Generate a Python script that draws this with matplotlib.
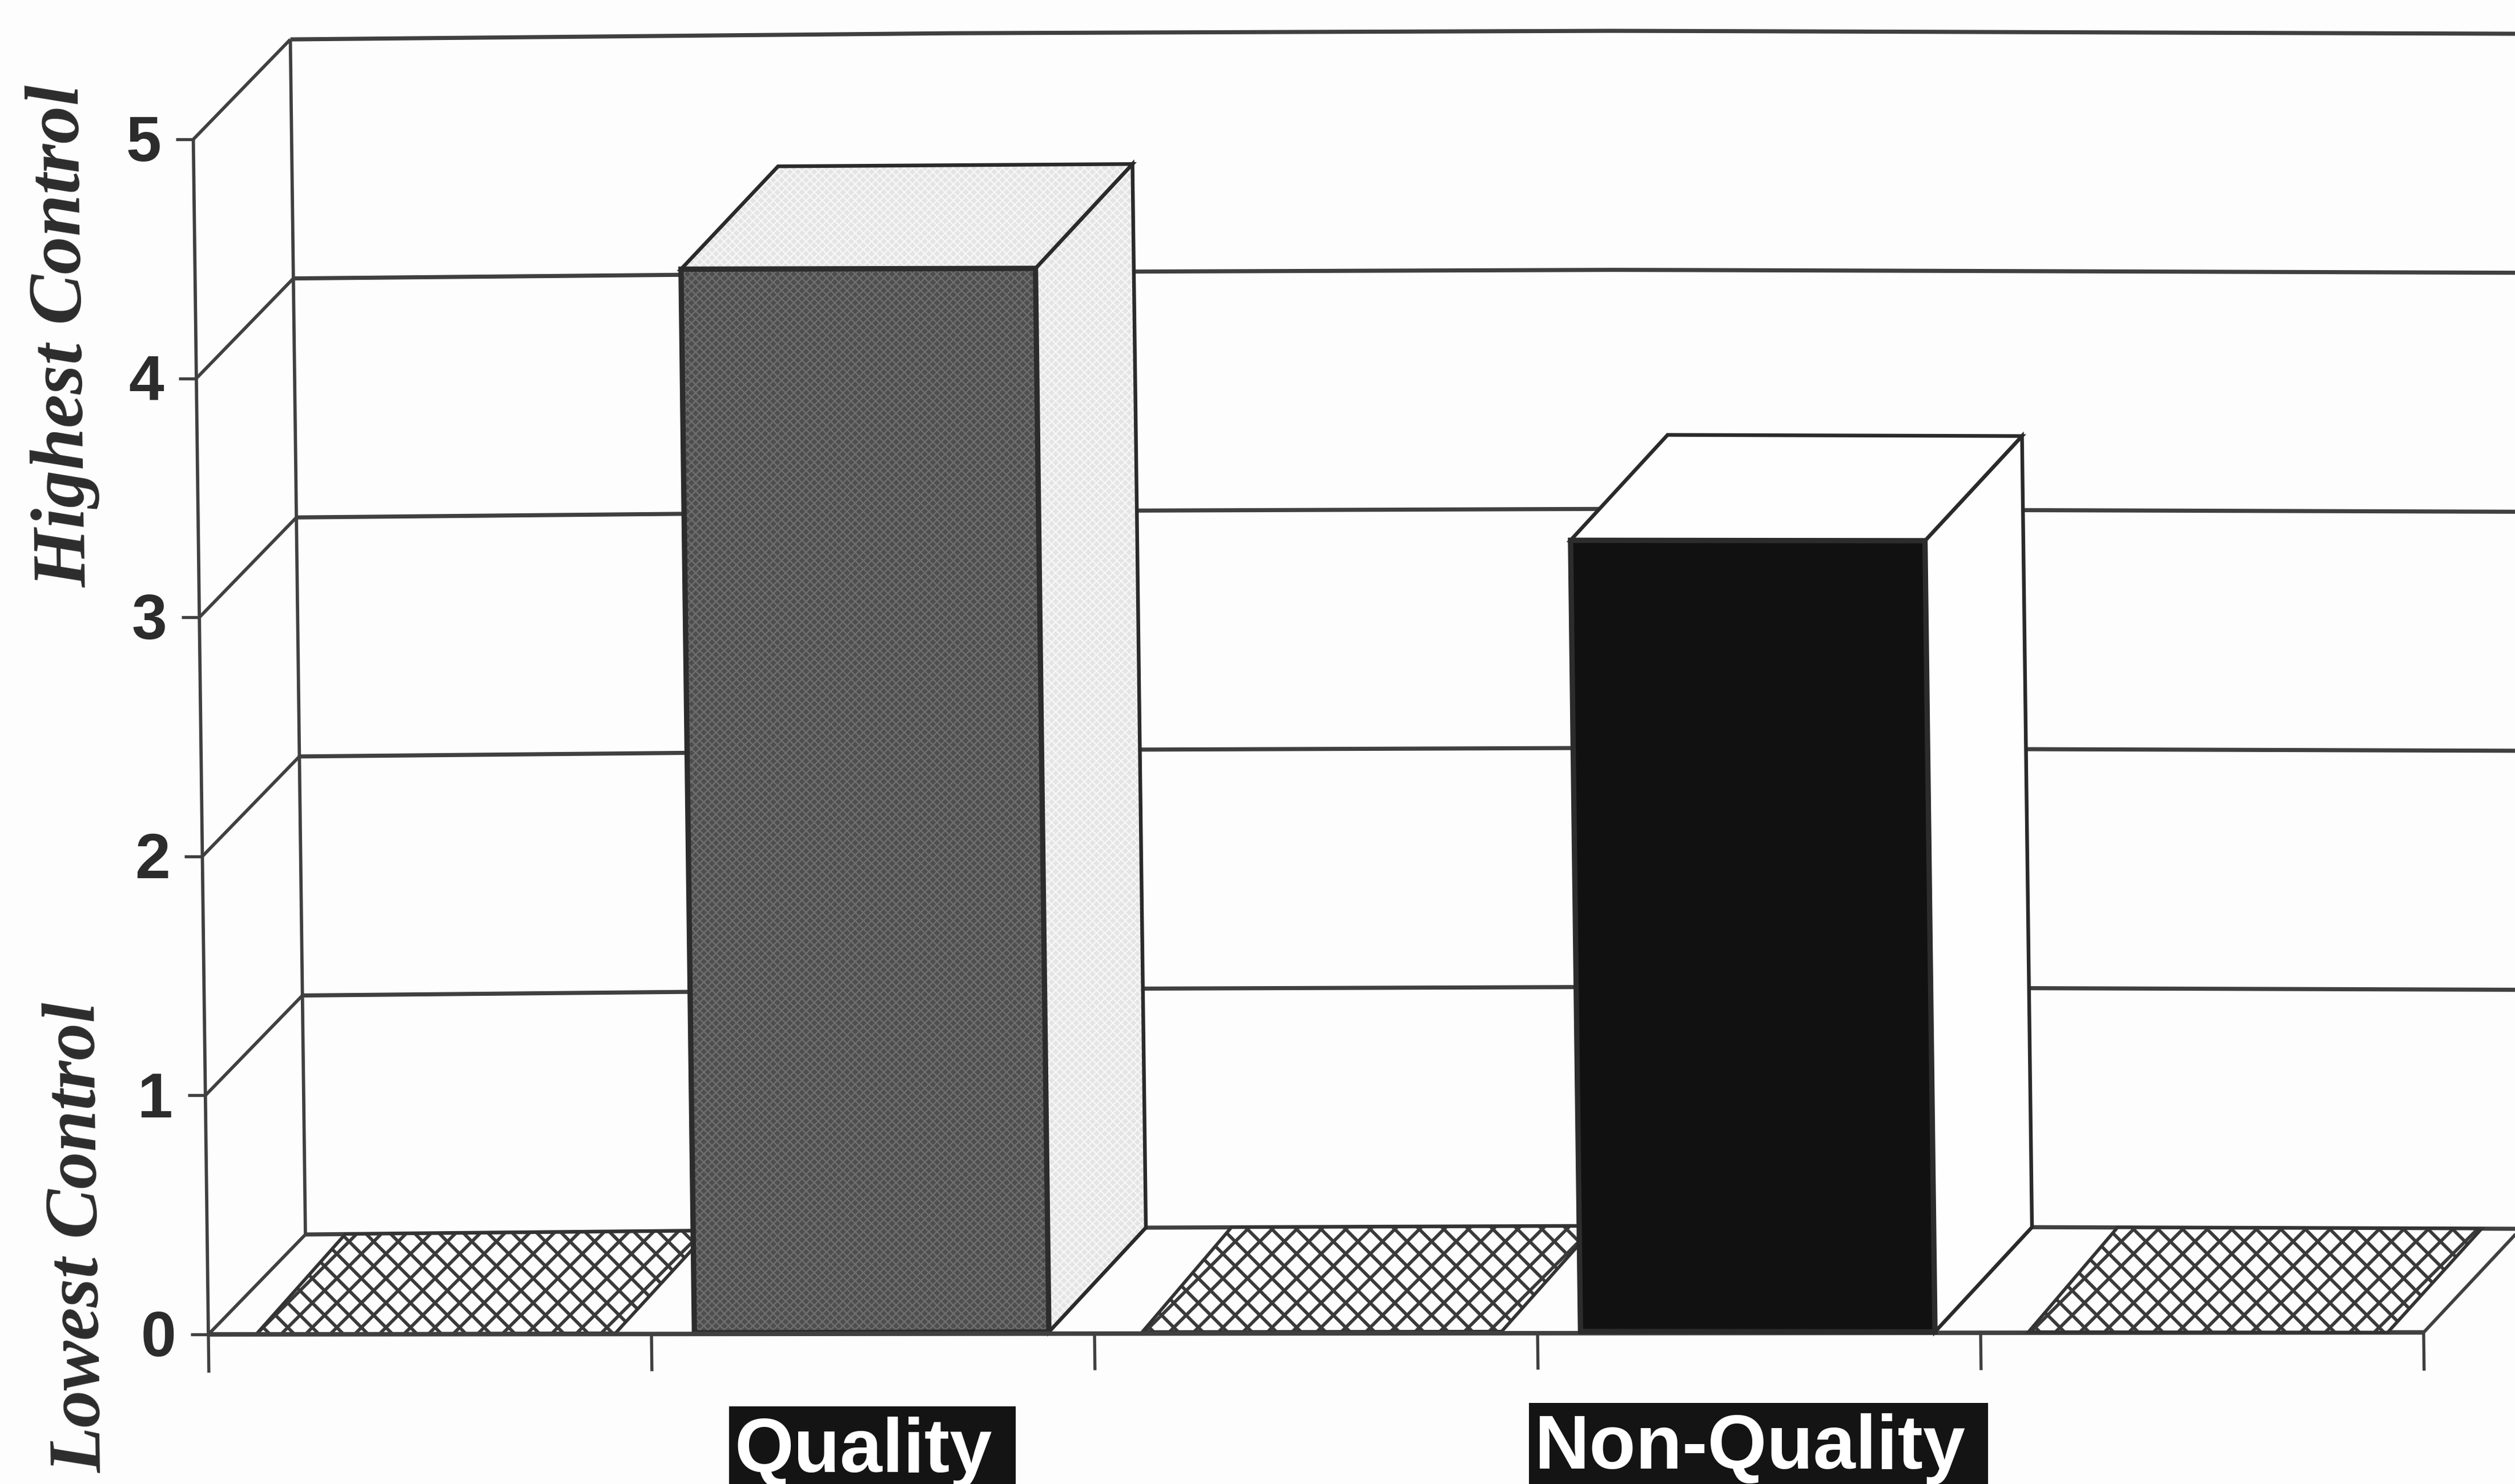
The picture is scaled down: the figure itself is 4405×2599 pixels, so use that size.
import matplotlib
matplotlib.use('Agg')
import matplotlib.pyplot as plt
import numpy as np
from matplotlib.patches import Polygon, Rectangle

# scores per slot, the empty slots lie flat on the floor
categories = ['', 'Quality', '', 'Non-Quality', '']
values = [0, 4.45, 0, 3.31, 0]
y_ticks = [0, 1, 2, 3, 4, 5]

PAGE = '#fdfdfd'
LINE = '#404040'

# oblique projection: how far one unit of depth moves a point, and the lean of the verticals
DEPTH_X = 0.219
DEPTH_Y = 0.418
LEAN = 0.0068
# the printed lines bow a little across the sheet
BOW_CAT = [0, 1.5, 3, 5.3]
BOW_VAL = [0, 0.026, 0.036, 0.022]

# one category slot and one value unit, in output pixels
SLOT_PX = 776
UNIT_PX = 418.6

DPI = 258
plt.rcParams['hatch.linewidth'] = 0.7


def project(cat, val, depth=0):
    cat = np.asarray(cat, dtype=float)
    val = np.asarray(val, dtype=float)
    bow = np.interp(cat, BOW_CAT, BOW_VAL) * (0.35 + 0.65 * depth)
    return cat + depth * DEPTH_X - val * LEAN, val + depth * DEPTH_Y + bow


def line(ax, cats, vals, depths, lw=2.0, color=LINE, z=2):
    x, y = project(np.array(cats), np.array(vals), np.array(depths))
    ax.plot(x, y, color=color, lw=lw, zorder=z, solid_capstyle='butt')


def corners_xy(corners):
    return [tuple(float(c) for c in project(*corner)) for corner in corners]


def face(ax, corners, facecolor, z, edge='#2a2a2a', lw=1.8, grain=None):
    pts = corners_xy(corners)
    if grain:
        # fine screen over the flat tone
        ax.add_patch(Polygon(pts, closed=True, facecolor=facecolor, edgecolor=grain, lw=0,
                             hatch='xxxxxx', zorder=z))
        facecolor = 'none'
    ax.add_patch(Polygon(pts, closed=True, facecolor=facecolor, edgecolor=edge, lw=lw,
                         zorder=z, joinstyle='miter'))


def draw_bar(ax, slot, value, style, z):
    left = slot + 0.097
    right = slot + 0.897
    front, side, front_grain, side_grain = style
    # side and top first, the front face overlaps their shared edges
    face(ax, [(right, 0, 0), (right, 0, 1), (right, value, 1), (right, value, 0)], side, z, grain=side_grain)
    face(ax, [(left, value, 0), (right, value, 0), (right, value, 1), (left, value, 1)], side, z, grain=side_grain)
    face(ax, [(left, 0, 0), (right, 0, 0), (right, value, 0), (left, value, 0)], front, z + 1,
         edge='#2c2c2c', lw=2.6, grain=front_grain)


def draw_flat(ax, slot, z):
    corners = [(slot + 0.108, 0, 0), (slot + 0.919, 0, 0), (slot + 0.912, 0, 1), (slot + 0.09, 0, 1)]
    pts = corners_xy(corners)
    patch = Polygon(pts, closed=True, facecolor=PAGE, edgecolor='none', zorder=z)
    ax.add_patch(patch)
    # cross hatch at 45 degrees on the sheet, 43 px between lines
    step = 43 / SLOT_PX
    run = 280 / SLOT_PX
    rise = 280 / UNIT_PX
    for off in np.arange(slot - 0.5, slot + 1.6, step):
        for sign in (1, -1):
            x0 = off if sign == 1 else off + run
            hatch_line, = ax.plot([x0, x0 + sign * run], [-0.1, -0.1 + rise], color='#3a3a3a', lw=1.6, zorder=z)
            hatch_line.set_clip_path(patch)
    ax.add_patch(Polygon(pts, closed=True, facecolor='none', edgecolor='#333333', lw=1.6, zorder=z))


fig = plt.figure(figsize=(4405 / DPI, 2599 / DPI), dpi=DPI, facecolor=PAGE)
ax = fig.add_axes([0, 0, 1, 1])
ax.set_xlim(-365 / SLOT_PX, (4405 - 365) / SLOT_PX)
ax.set_ylim((2337 - 2599) / UNIT_PX, 2337 / UNIT_PX)
ax.axis('off')

# back wall grid, side wall diagonals and value ticks
grid_x = np.linspace(0, 5.4, 30)
for v in y_ticks:
    line(ax, grid_x, np.full_like(grid_x, v), np.ones_like(grid_x))
    line(ax, [0, 0], [v, v], [0, 1], lw=1.6)
    line(ax, [-0.04, 0], [v, v], [0, 0], lw=1.5)
    x, y = project(0, v)
    ax.text(float(x) - 0.073, float(y) - 0.022, str(v), ha='right', va='center', fontsize=31,
            family='Liberation Sans', weight='bold', color='#2c2c2c')

line(ax, [0, 0], [y_ticks[-1], 0], [1, 1], lw=1.6)
line(ax, [0, 0], [y_ticks[-1], 0], [0, 0], lw=1.6)
line(ax, [0, 5], [0, 0], [0, 0], lw=2.2, z=6)
line(ax, [5, 5], [0, 0], [0, 1], lw=1.6)

# category ticks along the front of the floor
for i in range(len(categories) + 1):
    line(ax, [i, i], [0, -0.16], [0, 0], lw=1.5)

bar_styles = {1: ('#4e4e4e', '#e4e4e4', '#6e6e6e', '#f6f6f6'), 3: ('#111111', '#fefefe', None, None)}
for slot, value in enumerate(values):
    if value == 0:
        draw_flat(ax, slot, 3 + slot)
    else:
        draw_bar(ax, slot, value, bar_styles[slot], 3 + slot)

# category names, white on black strips that run off the bottom
label_boxes = {1: (1.175, 1.822, -0.30), 3: (2.981, 4.017, -0.287)}
for slot, name in enumerate(categories):
    if not name:
        continue
    x0, x1, top = label_boxes[slot]
    ax.add_patch(Rectangle((x0, top - 0.5), x1 - x0, 0.5, facecolor='#141414', edgecolor='none', zorder=8))
    ax.text((x0 + x1) / 2 - 0.02, top - 0.275, name, ha='center', va='baseline', fontsize=37.2,
            family='Liberation Sans', weight='bold', color='white', zorder=9)

# the two ends of the value scale
ax.text(-0.327, 4.177, 'Highest Control', rotation=90.8, rotation_mode='anchor', ha='center', va='center',
        fontsize=37, family='Liberation Serif', weight='bold', style='italic', color='#2c2c2c')
ax.text(-0.29, 0.407, 'Lowest Control', rotation=90.8, rotation_mode='anchor', ha='center', va='center',
        fontsize=36.5, family='Liberation Serif', weight='bold', style='italic', color='#2c2c2c')

fig.savefig('out.png', dpi=DPI, facecolor=PAGE)
